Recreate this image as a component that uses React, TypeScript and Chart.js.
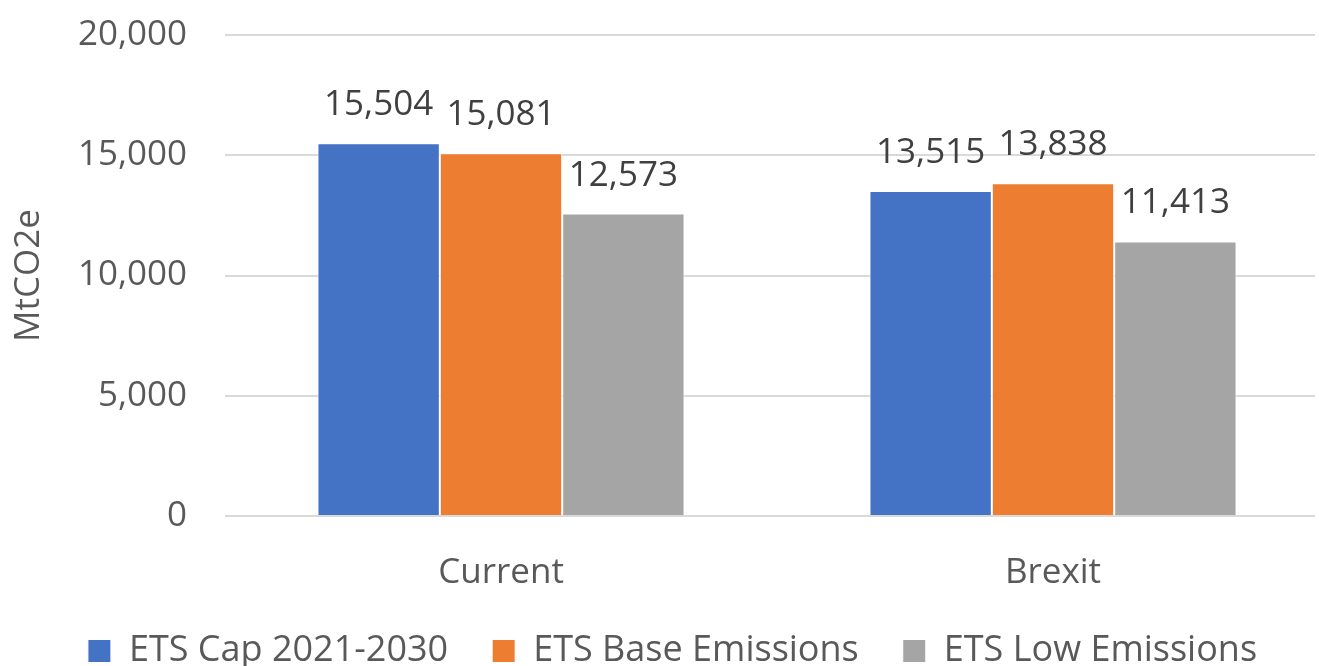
import React, { useEffect, useRef } from "react";
import { Chart, registerables } from "chart.js";

Chart.register(...registerables);

const categories = ["Current", "Brexit"];
const seriesNames = ["ETS Cap 2021-2030", "ETS Base Emissions", "ETS Low Emissions"];
const capValues = [15504, 13515];
const baseValues = [15081, 13838];
const lowValues = [12573, 11413];
const seriesColors = ["#4472C4", "#ED7D31", "#A5A5A5"];
const yTicks = [0, 5000, 10000, 15000, 20000];

const FONT = "'Open Sans', sans-serif";

const dataLabels = {
  id: "dataLabels",
  afterDatasetsDraw(chart: any) {
    const ctx = chart.ctx;
    ctx.save();
    ctx.font = `35px ${FONT}`;
    ctx.fillStyle = "#404040";
    ctx.textAlign = "center";
    ctx.textBaseline = "middle";
    chart.data.datasets.forEach((ds: any, i: number) => {
      const meta = chart.getDatasetMeta(i);
      meta.data.forEach((bar: any, j: number) => {
        const v = ds.data[j] as number;
        ctx.fillText(v.toLocaleString("en-US"), bar.x, bar.y - 38);
      });
    });
    ctx.restore();
  },
};

const layoutTweaks = {
  id: "layoutTweaks",
  beforeInit(chart: any) {
    const legend = chart.legend;
    const orig = legend.fit;
    legend.fit = function () {
      orig.bind(legend)();
      this.height = 77;
    };
  },
  afterLayout(chart: any) {
    const x = chart.scales.x;
    x.bottom = 610;
    x.height = x.bottom - x.top;
    x.right = 1329;
    x.width = x.right - x.left;
    x.configure();
    const lg = chart.legend;
    lg.left += 15;
    lg.right += 15;
  },
};

export default function App() {
  const ref = useRef<HTMLCanvasElement>(null);
  useEffect(() => {
    document.body.style.margin = "0";
    const chart = new Chart(ref.current!, {
      type: "bar",
      data: {
        labels: categories,
        datasets: [capValues, baseValues, lowValues].map((d, i) => ({
          label: seriesNames[i],
          data: d,
          backgroundColor: seriesColors[i],
          borderColor: "#ffffff",
          borderWidth: 1,
          categoryPercentage: 0.665,
          barPercentage: 1,
        })),
      },
      options: {
        animation: false,
        responsive: false,
        layout: { padding: { top: 35, right: 4, left: 0, bottom: 0 } },
        plugins: {
          tooltip: { enabled: false },
          legend: {
            position: "bottom",
            labels: {
              font: { family: FONT, size: 36 },
              color: "#595959",
              boxWidth: 23,
              boxHeight: 23,
              padding: 44,
            },
          },
        },
        scales: {
          x: {
            grid: { display: false },
            border: { display: false },
            afterFit(scale: any) {
              scale.height = 73;
            },
            ticks: { font: { family: FONT, size: 35 }, color: "#595959", padding: 28 },
          },
          y: {
            min: 0,
            max: 20000,
            afterBuildTicks(scale: any) {
              scale.ticks = yTicks.map((v) => ({ value: v }));
            },
            afterFit(scale: any) {
              scale.width = 225;
              scale.paddingTop = 0;
              scale.paddingBottom = 0;
            },
            grid: { color: "#D9D9D9", lineWidth: 2, drawTicks: false },
            border: { display: false },
            ticks: {
              font: { family: FONT, size: 35 },
              color: "#595959",
              padding: 38,
              callback: (v: any) => Number(v).toLocaleString("en-US"),
            },
            title: {
              display: true,
              text: "MtCO2e",
              font: { family: FONT, size: 35 },
              color: "#595959",
              padding: { top: 8, bottom: 0 },
            },
          },
        },
      },
      plugins: [dataLabels, layoutTweaks],
    });
    return () => chart.destroy();
  }, []);
  return (
    <div style={{ width: 1319, height: 666 }}>
      <canvas ref={ref} width={1319} height={666} />
    </div>
  );
}
